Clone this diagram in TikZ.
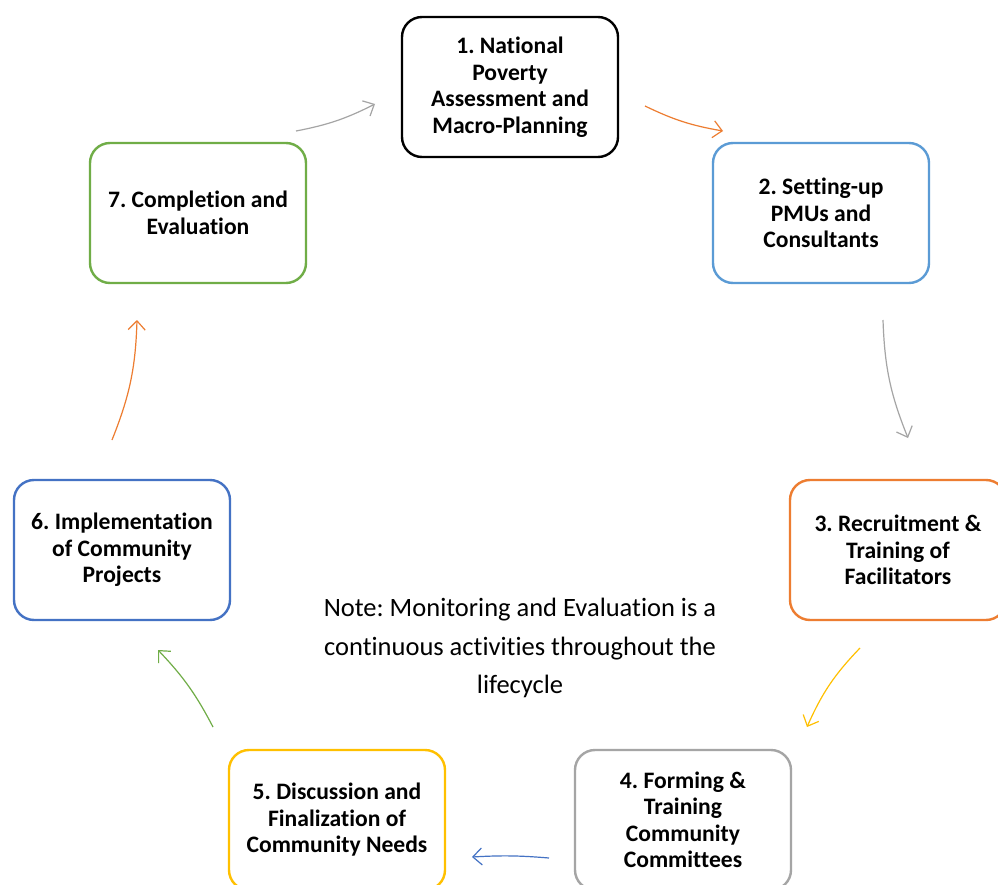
\documentclass[tikz,border=0pt]{standalone}
\usepackage{fontspec}
\setmainfont{Carlito}[Ligatures={NoCommon}]
\usetikzlibrary{arrows.meta}
\definecolor{cBlue}{HTML}{5B9BD5}
\definecolor{cOrange}{HTML}{ED7D31}
\definecolor{cGray}{HTML}{A5A5A5}
\definecolor{cGold}{HTML}{FFC000}
\definecolor{cDBlue}{HTML}{4472C4}
\definecolor{cGreen}{HTML}{70AD47}
\tikzset{
  stage/.style={draw=#1, line width=2.4pt, rounded corners=20pt, minimum width=216pt, minimum height=140pt,
    align=center, font=\fontsize{23.6pt}{26.5pt}\selectfont\bfseries, inner sep=0pt, fill=white},
  flow/.style={draw=#1, line width=1.2pt, -{Straight Barb[length=9pt,width=17pt,line width=1.2pt]}},
}
\begin{document}
\frenchspacing
\begin{tikzpicture}[x=1pt,y=-1pt]
\clip (0,0) rectangle (998,885);
\fill[white] (0,0) rectangle (998,885);
\node[stage=black] (n1) at (510,87) {1. National\\Poverty\\Assessment and\\Macro-Planning};
\node[stage=cBlue] (n2) at (821,213) {2. Setting-up\\PMUs and\\Consultants};
\node[stage=cOrange] (n3) at (898,550) {3. Recruitment \&\\Training of\\Facilitators};
\node[stage=cGray] (n4) at (683,820) {4. Forming \&\\Training\\Community\\Committees};
\node[stage=cGold] (n5) at (337,820) {5. Discussion and\\Finalization of\\Community Needs};
\node[stage=cDBlue] (n6) at (122,550) {6. Implementation\\of Community\\Projects};
\node[stage=cGreen] (n7) at (198,213) {7. Completion and\\Evaluation};
\node[align=center, text=black, font=\fontsize{26.5pt}{38.5pt}\selectfont] (note) at (520,648)
  {Note: Monitoring and Evaluation is a\\continuous activities throughout the\\lifecycle};
\coordinate (a71s) at (296,131); \coordinate (a71e) at (375,104);
\coordinate (a12s) at (645,106); \coordinate (a12e) at (723,131);
\coordinate (a23s) at (883,320); \coordinate (a23e) at (908,438);
\coordinate (a34s) at (860,648); \coordinate (a34e) at (807,727);
\coordinate (a45s) at (549,858); \coordinate (a45e) at (472,857);
\coordinate (a56s) at (213,727); \coordinate (a56e) at (158,650);
\coordinate (a67s) at (112,440); \coordinate (a67e) at (137,320);
\draw[flow=cGray] (a71s) to[bend right=8] (a71e);
\draw[flow=cOrange] (a12s) to[bend right=8] (a12e);
\draw[flow=cGray] (a23s) to[bend right=10] (a23e);
\draw[flow=cGold] (a34s) to[bend right=10] (a34e);
\draw[flow=cDBlue] (a45s) to[bend right=4] (a45e);
\draw[flow=cGreen] (a56s) to[bend right=8] (a56e);
\draw[flow=cOrange] (a67s) to[bend right=10] (a67e);
\end{tikzpicture}
\end{document}
